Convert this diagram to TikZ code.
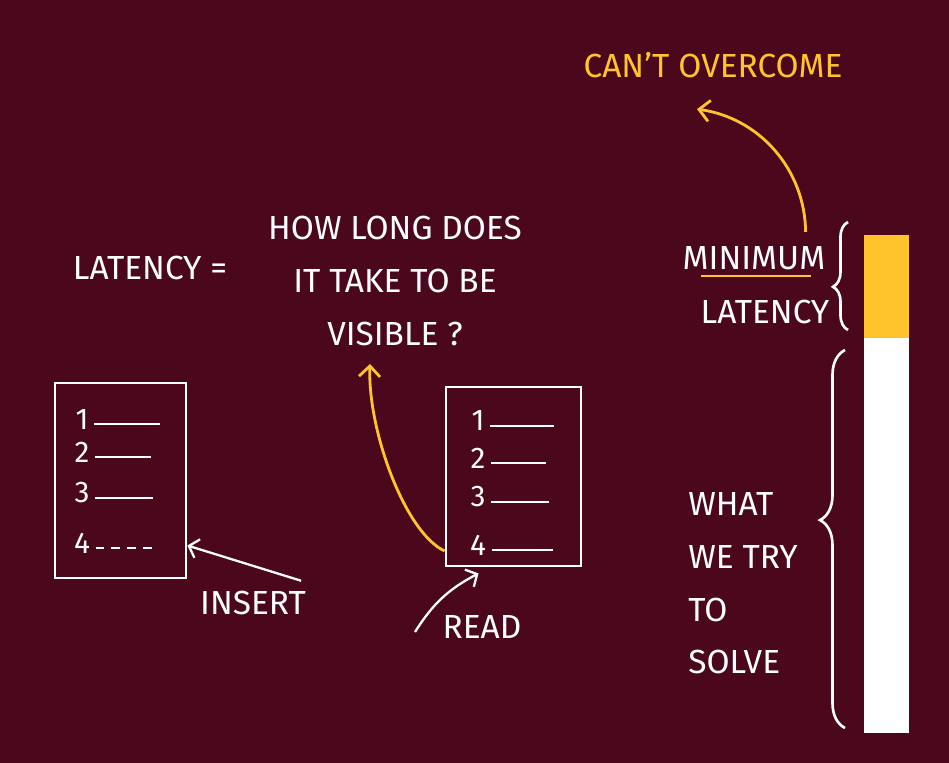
\documentclass[tikz,border=0pt]{standalone}
\usepackage{fontspec}
\setmainfont{Fira Sans}
\usetikzlibrary{arrows.meta, positioning, decorations.pathreplacing}
\definecolor{maroon}{RGB}{75,8,29}
\definecolor{gold}{RGB}{255,196,44}
\tikzstyle{hand}=[text=white, inner sep=0pt, align=center,
  font=\fontsize{19}{30}\selectfont]
\tikzstyle{num}=[text=white, inner sep=1pt, font=\fontsize{17}{17}\selectfont]
\tikzstyle{docbox}=[rectangle, draw=white, line width=1.6pt, inner sep=0pt]
\tikzstyle{wline}=[white, line width=1.2pt]
\tikzstyle{warr}=[-{Straight Barb[length=5pt,width=11pt]}, line width=1.3pt, white]
\tikzstyle{yarr}=[-{Straight Barb[length=6pt,width=12pt]}, line width=1.6pt, gold]
\tikzstyle{hbrace}=[decorate, white, line width=1.5pt]

\begin{document}
\begin{tikzpicture}
  \fill[maroon] (0,0) rectangle (18.98,-15.26);
  \useasboundingbox (0,0) rectangle (18.98,-15.26);

  % what latency means
  \node[hand] (latency) at (3.0,-5.36) {LATENCY =};
  \node[hand] (question) at (7.9,-5.62) {HOW LONG DOES\\IT TAKE TO BE\\VISIBLE ?};
  \coordinate (visible) at (7.4,-7.28);

  % writer side
  \node[docbox, minimum width=2.62cm, minimum height=3.9cm] (insertbox) at (2.41,-9.61) {};
  \foreach \r/\y in {1/-8.38, 2/-9.04, 3/-9.86, 4/-10.86}
    \node[num] (i\r) at (1.64,\y) {\r};
  \foreach \r/\len in {1/1.32, 2/1.12, 3/1.16}
    \draw[wline] ([xshift=2pt,yshift=4pt]i\r.south east) -- ++(\len,0);
  \draw[wline, dash pattern=on 5pt off 4pt] ([xshift=2pt,yshift=4pt]i4.south east) -- ++(1.24,0);
  \node[hand] (insertlbl) at (5.06,-12.06) {INSERT};
  \draw[warr] ([xshift=-0.1cm,yshift=0.2cm]insertlbl.north east) -- ([yshift=-1.3cm]insertbox.east);

  % reader side
  \node[docbox, minimum width=2.7cm, minimum height=3.58cm] (readbox) at (10.27,-9.53) {};
  \foreach \r/\y in {1/-8.42, 2/-9.16, 3/-9.94, 4/-10.9}
    \node[num] (r\r) at (9.56,\y) {\r};
  \foreach \r/\len in {1/1.28, 2/1.1, 3/1.16, 4/1.22}
    \draw[wline] ([xshift=2pt,yshift=4pt]r\r.south east) -- ++(\len,0);
  \node[hand] (readlbl) at (9.64,-12.54) {READ};
  \coordinate (readfrom) at (8.3,-12.64);
  \draw[warr] (readfrom) to[bend left=15] ([xshift=-0.7cm,yshift=-0.12cm]readbox.south);
  \draw[yarr] ([yshift=-1.49cm]readbox.west) .. controls (8.1,-10.65) and (7.35,-8.6) .. (visible);

  % latency bar
  \node[fill=gold, minimum width=0.9cm, minimum height=2.06cm, inner sep=0pt, outer sep=0pt]
    (ybar) at (17.73,-5.73) {};
  \node[fill=white, minimum width=0.9cm, minimum height=7.9cm, inner sep=0pt, outer sep=0pt,
    below=0pt of ybar] (wbar) {};
  \draw[hbrace, decoration={brace, amplitude=0.3cm, aspect=0.4}]
    ([xshift=-0.32cm,yshift=0.16cm]ybar.south west) -- ([xshift=-0.32cm,yshift=0.26cm]ybar.north west);
  \draw[hbrace, decoration={brace, amplitude=0.5cm, aspect=0.55}]
    ([xshift=-0.38cm,yshift=0.1cm]wbar.south west) -- ([xshift=-0.38cm,yshift=-0.24cm]wbar.north west);

  \node[hand] (minlbl) at (15.08,-5.16) {MINIMUM};
  \node[hand] (minlat) at (15.3,-6.24) {LATENCY};
  \draw[gold, line width=1.3pt] ([xshift=0.38cm,yshift=-0.12cm]minlbl.south west)
    -- ([xshift=-0.3cm,yshift=-0.12cm]minlbl.south east);
  \node[hand, align=left, anchor=west] (whatlbl) at (13.76,-11.67) {WHAT\\WE TRY\\TO\\SOLVE};

  \node[hand, text=gold] (cant) at (14.26,-1.3) {CAN'T OVERCOME};
  \draw[yarr] ([xshift=-0.4cm,yshift=0.28cm]minlbl.north east) .. controls (16.1,-3.4) and (15.2,-2.36)
    .. ([xshift=-0.32cm,yshift=-0.62cm]cant.south);
\end{tikzpicture}
\end{document}
